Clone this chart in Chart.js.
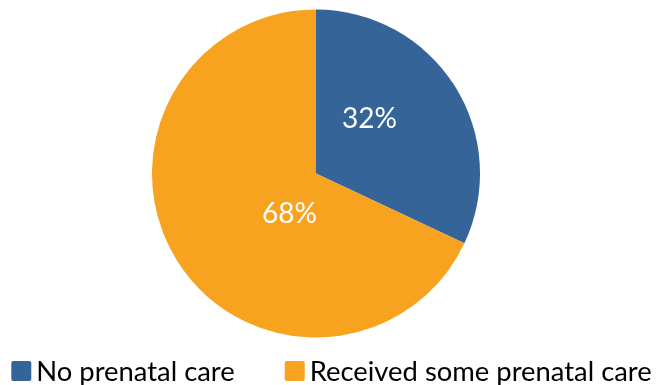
<!DOCTYPE html>
<html>
<head>
<meta charset="utf-8">
<script src="https://cdn.jsdelivr.net/npm/chart.js@4.4.0/dist/chart.umd.min.js"></script>
<style>
  html, body { margin: 0; padding: 0; background: #fff; }
  #wrap { width: 657px; height: 385px; position: relative; }
</style>
</head>
<body>
<div id="wrap"><canvas id="pie"></canvas></div>
<script>
// Prenatal care share
const categories = ["No prenatal care", "Received some prenatal care"];
const shares = [32, 68];
const colors = ["#346498", "#F8A31F"];

const FONT = "Lato, 'Open Sans', sans-serif";

// Where each percent label sits: angle (deg, clockwise from 3 o'clock) and fraction of radius
const labelSpots = [
  { angle: -45.5, dist: 0.466 },
  { angle: 123.2, dist: 0.295 }
];

// Percent labels inside the slices
const sliceLabels = {
  id: "sliceLabels",
  afterDatasetsDraw(chart) {
    const ctx = chart.ctx;
    const arcs = chart.getDatasetMeta(0).data;
    ctx.save();
    ctx.fillStyle = "#fff";
    ctx.font = "28px " + FONT;
    ctx.textAlign = "center";
    ctx.textBaseline = "middle";
    arcs.forEach((arc, i) => {
      const spot = labelSpots[i];
      const a = spot.angle * Math.PI / 180;
      const x = arc.x + Math.cos(a) * arc.outerRadius * spot.dist;
      const y = arc.y + Math.sin(a) * arc.outerRadius * spot.dist;
      ctx.fillText(shares[i] + "%", x, y);
    });
    ctx.restore();
  }
};

// Legend row under the pie: square swatch, small gap, text
const bottomLegend = {
  id: "bottomLegend",
  afterDraw(chart) {
    const ctx = chart.ctx;
    const box = 20, gap = 5, between = 50;
    ctx.save();
    ctx.font = "27.4px " + FONT;
    ctx.textBaseline = "middle";
    const widths = categories.map(c => box + gap + ctx.measureText(c).width);
    const total = widths.reduce((s, w) => s + w, 0) + between * (categories.length - 1);
    let x = (chart.width - total) / 2 + 3;
    const y = 371;
    categories.forEach((c, i) => {
      ctx.fillStyle = colors[i];
      ctx.beginPath();
      ctx.roundRect(x, y - box / 2, box, box, 2);
      ctx.fill();
      ctx.fillStyle = "#000";
      ctx.fillText(c, x + box + gap, y + 1);
      x += widths[i] + between;
    });
    ctx.restore();
  }
};

new Chart(document.getElementById("pie"), {
  type: "pie",
  data: {
    labels: categories,
    datasets: [{
      data: shares,
      backgroundColor: colors,
      borderWidth: 0
    }]
  },
  options: {
    responsive: true,
    maintainAspectRatio: false,
    animation: false,
    layout: { padding: { top: 9.5, bottom: 47.5, left: 140, right: 165 } },
    plugins: {
      legend: { display: false },
      tooltip: { enabled: false }
    }
  },
  plugins: [sliceLabels, bottomLegend]
});
</script>
</body>
</html>
